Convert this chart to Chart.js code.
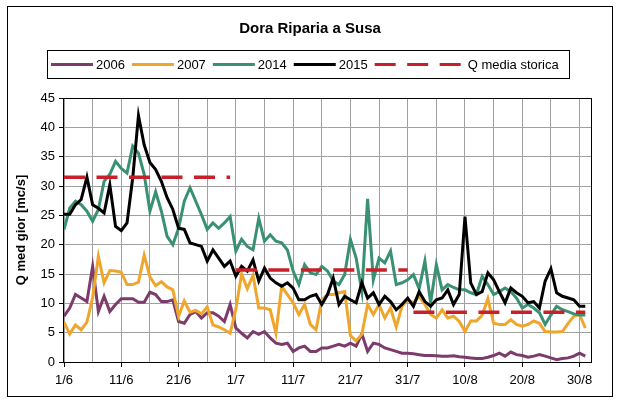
<!DOCTYPE html>
<html lang="it">
<head>
<meta charset="UTF-8">
<title>Dora Riparia a Susa</title>
<script src="https://cdn.jsdelivr.net/npm/chart.js"></script>
<style>
  html, body { margin: 0; background: #fff; }
  .wrap { width: 620px; height: 408px; position: relative; }
</style>
</head>
<body>
<div class="wrap"><canvas id="grafico"></canvas></div>
<script>
  // portata media giornaliera [mc/s], dal 1/6 al 31/8
  const titolo = 'Dora Riparia a Susa';
  const anni = ['2006', '2007', '2014', '2015'];

  const anno2006 = [7.8, 9.2, 11.5, 10.9, 10.3, 16.3, 8.6, 11.2, 8.6, 9.8,
    10.8, 10.8, 10.8, 10.2, 10.2, 11.9, 11.5, 10.3, 10.3, 10.6,
    6.9, 6.6, 8.1, 8.6, 7.5, 8.4, 8.4, 7.8, 6.9, 9.8,
    5.8, 4.9, 4.1, 5.2, 4.7, 5.2, 4.1, 3.2, 3.0, 3.2,
    1.8, 2.4, 2.7, 1.8, 1.8, 2.4, 2.4, 2.7, 3.0, 2.7,
    3.2, 2.7, 4.8, 1.8, 3.2, 3.0, 2.4, 2.1, 1.8, 1.5,
    1.5, 1.4, 1.25, 1.1, 1.1, 1.05, 1.0, 1.0, 1.05, 0.9,
    0.8, 0.7, 0.6, 0.6, 0.8, 1.1, 1.5, 1.0, 1.7, 1.25,
    1.1, 0.8, 1.0, 1.25, 1.0, 0.7, 0.4, 0.6, 0.7, 1.0,
    1.5, 1.0];

  const anno2007 = [6.8, 4.8, 6.3, 5.5, 6.8, 11.0, 18.0, 13.5, 15.6, 15.5,
    15.3, 13.2, 13.2, 13.6, 18.2, 14.5, 13.0, 13.7, 12.8, 12.3,
    7.8, 10.4, 8.5, 8.8, 8.2, 9.4, 6.3, 6.0, 5.5, 4.9,
    9.0, 15.0, 12.5, 14.8, 9.2, 9.2, 8.9, 4.9, 12.9, 11.5,
    10.1, 8.1, 9.8, 6.4, 5.5, 10.6, 11.5, 11.5, 11.8, 12.0,
    4.5, 3.6, 4.7, 9.8, 8.1, 9.8, 7.5, 9.2, 6.0, 9.5,
    10.6, 10.1, 11.2, 9.8, 8.1, 7.5, 8.9, 7.5, 7.8, 6.9,
    5.2, 7.0, 7.0, 8.0, 10.8, 6.6, 6.4, 6.4, 7.2, 6.4,
    6.1, 6.4, 7.0, 6.6, 5.2, 5.1, 5.1, 5.2, 6.6, 7.8,
    8.1, 5.8];

  const anno2014 = [22.6, 26.2, 27.4, 26.8, 25.7, 24.0, 26.0, 30.8, 32.0, 34.2,
    33.0, 32.2, 36.8, 35.6, 32.0, 25.7, 29.0, 25.7, 21.4, 20.0,
    22.8, 27.4, 29.7, 27.4, 25.1, 22.6, 23.7, 22.8, 23.7, 24.8,
    18.9, 20.9, 19.7, 19.1, 24.5, 20.6, 21.7, 20.6, 20.3, 19.1,
    15.5, 13.2, 16.6, 15.2, 14.9, 16.3, 15.5, 13.8, 13.2, 14.9,
    20.9, 17.7, 12.0, 27.8, 14.0, 17.7, 16.9, 18.9, 13.2, 13.5,
    14.0, 14.9, 12.5, 17.2, 10.1, 16.6, 12.3, 13.2, 12.7, 12.3,
    12.3, 11.8, 11.5, 14.6, 13.2, 11.5, 12.0, 12.6, 12.0, 10.9,
    9.2, 9.8, 9.2, 8.4, 6.4, 8.0, 9.5, 8.9, 8.6, 8.2,
    8.0, 8.0];

  const anno2015 = [25.2, 25.2, 26.8, 27.7, 31.5, 26.8, 26.2, 25.4, 30.2, 23.1,
    22.4, 23.7, 31.4, 42.0, 37.0, 34.0, 32.8, 30.8, 28.0, 26.0,
    22.8, 22.6, 20.3, 20.0, 19.7, 17.2, 19.1, 17.7, 16.3, 17.2,
    14.6, 16.3, 15.5, 17.4, 13.8, 16.0, 14.3, 13.5, 12.9, 13.5,
    12.6, 10.6, 10.6, 11.2, 11.5, 9.8, 11.5, 14.3, 9.8, 11.2,
    10.6, 10.1, 13.5, 10.9, 11.8, 9.8, 11.2, 10.3, 8.9, 9.8,
    10.9, 9.5, 12.0, 10.3, 9.5, 10.6, 10.9, 12.3, 9.8, 11.5,
    24.8, 13.5, 11.5, 12.0, 15.2, 14.0, 12.0, 10.1, 12.6, 11.8,
    11.2, 10.1, 10.3, 9.2, 13.8, 15.9, 11.8, 11.2, 10.9, 10.6,
    9.5, 9.5];

  // Q media storica per mese (giugno, luglio, agosto)
  const qMediaMesi = [31.5, 15.7, 8.5];
  const giorniMese = [30, 31, 31];

  const colori = ['#7b3b6b', '#f0a62c', '#3a9072', '#000000'];
  const coloreQ = '#c8202a';

  // asse x: giorno dal 1/6
  const giorni = anno2015.map((_, i) => i);
  const qStorica = [];
  qMediaMesi.forEach((q, m) => { for (let d = 0; d < giorniMese[m]; d++) qStorica.push(q); });

  function etichetta(v) {
    const d = new Date(2015, 5, 1 + v);
    return d.getDate() + '/' + (d.getMonth() + 1);
  }

  Chart.defaults.font.family = "'Liberation Sans', Arial, sans-serif";
  Chart.defaults.font.size = 13;
  Chart.defaults.color = '#000';

  const datasets = [anno2006, anno2007, anno2014, anno2015].map((vals, i) => ({
    label: anni[i],
    data: vals,
    borderColor: colori[i],
    backgroundColor: colori[i],
    borderWidth: 3,
    order: 5 - i
  }));
  datasets.push({
    label: 'Q media storica',
    data: qStorica,
    borderColor: coloreQ,
    backgroundColor: coloreQ,
    borderWidth: 3.5,
    borderDash: [21, 11.5],
    order: 0,
    // niente tratto tra un mese e l'altro
    segment: {
      borderColor: c => c.p0.parsed.y !== c.p1.parsed.y ? 'rgba(0,0,0,0)' : undefined
    }
  });

  const cornice = {
    id: 'cornice',
    beforeDatasetsDraw(chart) {
      const c = chart.ctx, a = chart.chartArea;
      c.save();
      c.strokeStyle = '#000';
      c.lineWidth = 1;
      c.strokeRect(Math.round(a.left) - 0.5, Math.round(a.top) + 0.5,
        Math.round(a.right - a.left) + 1, Math.round(a.bottom - a.top));
      c.restore();
    },
    afterDraw(chart) {
      const c = chart.ctx;
      c.save();
      c.strokeStyle = '#000';
      c.lineWidth = 1;
      c.strokeRect(7.5, 6.5, 605, 390);

      c.fillStyle = '#000';
      c.textBaseline = 'middle';
      c.textAlign = 'center';
      c.font = "bold 15px 'Liberation Sans', Arial, sans-serif";
      c.fillText(titolo, 310, 29);

      // legenda in riquadro
      c.strokeRect(47.5, 50.5, 522, 28);
      c.font = "13px 'Liberation Sans', Arial, sans-serif";
      c.textAlign = 'left';
      let x = 51;
      const y = 64.5;
      chart.data.datasets.forEach(ds => {
        const len = ds.borderDash ? 90 : 42;
        c.beginPath();
        c.setLineDash(ds.borderDash || []);
        c.lineWidth = 3;
        c.strokeStyle = ds.borderColor;
        c.moveTo(x, y);
        c.lineTo(x + len, y);
        c.stroke();
        c.setLineDash([]);
        const tx = x + len + 3;
        c.fillText(ds.label, tx, y + 0.5);
        x = tx + c.measureText(ds.label).width + 7;
      });
      c.restore();
    }
  };

  new Chart(document.getElementById('grafico'), {
    type: 'line',
    data: { labels: giorni, datasets },
    options: {
      responsive: true,
      maintainAspectRatio: false,
      animation: false,
      layout: { padding: { left: 14, right: 29, top: 98, bottom: 0 } },
      elements: { point: { radius: 0 }, line: { tension: 0 } },
      plugins: {
        legend: { display: false },
        title: { display: false },
        tooltip: { enabled: false }
      },
      scales: {
        x: {
          type: 'linear',
          min: 0,
          max: 92,
          ticks: {
            stepSize: 5,
            includeBounds: false,
            autoSkip: false,
            maxRotation: 0,
            padding: 6,
            callback: v => v % 10 === 0 ? etichetta(v) : ''
          },
          grid: {
            color: '#a0a0a0',
            tickLength: 5,
            tickColor: c => c.tick && c.tick.value % 10 === 0 ? '#000' : 'rgba(0,0,0,0)'
          },
          border: { display: false },
          afterFit: s => { s.height = 46; }
        },
        y: {
          min: 0,
          max: 45,
          ticks: { stepSize: 5, padding: 4 },
          grid: { color: '#a0a0a0', tickLength: 5, tickColor: '#000' },
          border: { display: false },
          title: {
            display: true,
            text: 'Q med gior [mc/s]',
            font: { weight: 'bold', size: 13 },
            padding: { top: 0, bottom: 0 }
          },
          afterFit: s => { s.width = 50; }
        }
      }
    },
    plugins: [cornice]
  });
</script>
</body>
</html>
